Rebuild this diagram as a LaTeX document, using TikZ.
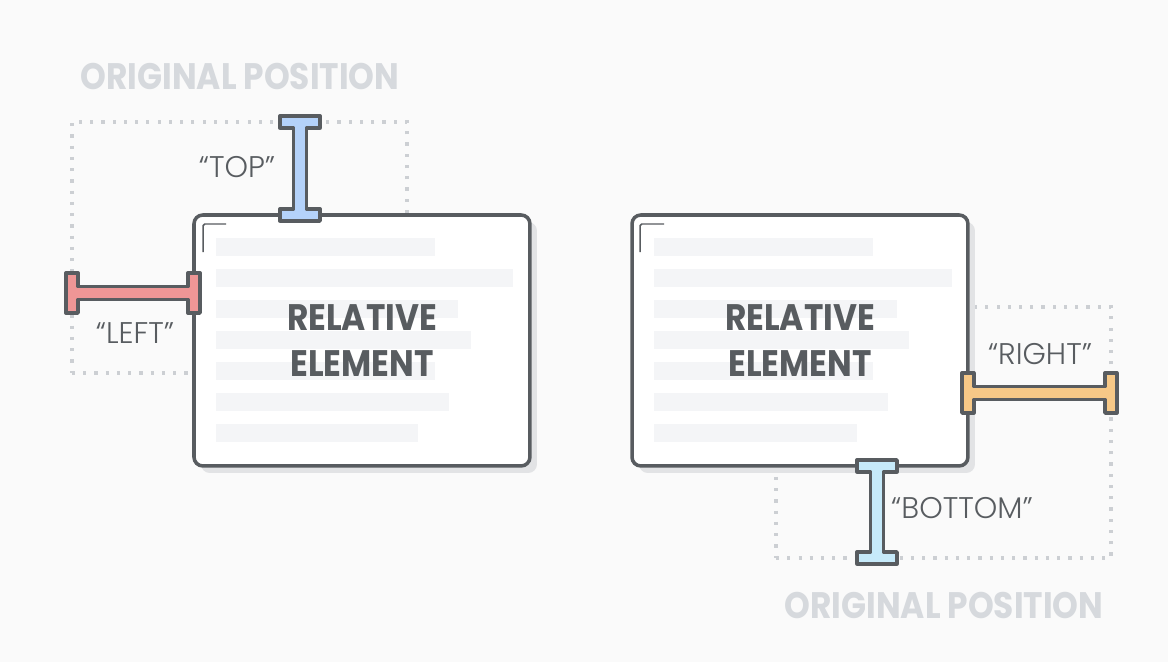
\documentclass[tikz,border=0pt]{standalone}
\usepackage{fontspec}
\newfontfamily\headfont{Poppins}[FakeStretch=0.89]
\newfontfamily\tagfont{Poppins Light}
\usetikzlibrary{calc,shadows,positioning}
\definecolor{paper}{RGB}{250,250,250}
\definecolor{ink}{RGB}{88,92,96}
\definecolor{ghost}{RGB}{214,217,221}
\definecolor{dots}{RGB}{204,207,211}
\definecolor{barfill}{RGB}{244,245,247}
\definecolor{shade}{RGB}{226,227,229}
\definecolor{sky}{RGB}{180,210,250}
\definecolor{rose}{RGB}{238,150,150}
\definecolor{sand}{RGB}{246,200,135}
\definecolor{ice}{RGB}{198,234,250}
\tikzset{
  ghostbox/.style={draw=dots,line width=1.8pt,dash pattern=on 1.8pt off 4.6pt,
    minimum width=6.7cm,minimum height=5.02cm,inner sep=0pt,outer sep=0pt},
  relbox/.style={draw=ink,fill=white,line width=2pt,rounded corners=5pt,
    minimum width=6.72cm,minimum height=5.02cm,inner sep=0pt,outer sep=0pt,
    drop shadow={shadow xshift=4pt,shadow yshift=-4pt,fill=shade,opacity=1}},
  txtbar/.style={fill=barfill},
  cornertick/.style={draw=ink,line width=0.85pt,rounded corners=1pt},
  bigtxt/.style={font=\headfont\bfseries\fontsize{21}{26}\selectfont,align=center},
  tag/.style={font=\tagfont\fontsize{17}{20}\selectfont,text=ink},
  % I-beams between the original and the shifted edge
  hbeam/.style={draw=ink,line width=1.9pt,line join=round,fill=#1,
    to path={($(\tikztostart)+(-6,-20)$) -- ($(\tikztostart)+(6,-20)$) -- ($(\tikztostart)+(6,-6.5)$)
      -- ($(\tikztotarget)+(-6,-6.5)$) -- ($(\tikztotarget)+(-6,-20)$) -- ($(\tikztotarget)+(6,-20)$)
      -- ($(\tikztotarget)+(6,20)$) -- ($(\tikztotarget)+(-6,20)$) -- ($(\tikztotarget)+(-6,6.5)$)
      -- ($(\tikztostart)+(6,6.5)$) -- ($(\tikztostart)+(6,20)$) -- ($(\tikztostart)+(-6,20)$) -- cycle}},
  vbeam/.style={draw=ink,line width=1.9pt,line join=round,fill=#1,
    to path={($(\tikztostart)+(-20,-6)$) -- ($(\tikztostart)+(20,-6)$) -- ($(\tikztostart)+(20,6)$)
      -- ($(\tikztostart)+(6.5,6)$) -- ($(\tikztotarget)+(6.5,-6)$) -- ($(\tikztotarget)+(20,-6)$)
      -- ($(\tikztotarget)+(20,6)$) -- ($(\tikztotarget)+(-20,6)$) -- ($(\tikztotarget)+(-20,-6)$)
      -- ($(\tikztotarget)+(-6.5,-6)$) -- ($(\tikztostart)+(-6.5,6)$) -- ($(\tikztostart)+(-20,6)$) -- cycle}},
}
\begin{document}
\begin{tikzpicture}[x=0.02cm,y=-0.02cm]
  \useasboundingbox[fill=paper] (0,0) rectangle (1168,662);
  % left: moved by top and left
  \node[ghostbox,anchor=north west] (orig1) at (72,122) {};
  \node[relbox,anchor=north west] (rel1) at (194,215) {};
  \foreach \w [count=\i from 0] in {219,297,242,255,219,233,202}
    \fill[txtbar] ($(rel1.north west)+(22,23+31*\i)$) rectangle ++(\w,18);
  \draw[cornertick] ($(rel1.north west)+(9,37)$) |- ($(rel1.north west)+(32,9)$);
  \node[bigtxt,text=ink] (lab1) at (rel1.center) {RELATIVE\\ELEMENT};
  \node[bigtxt,text=ghost] (cap1) at (240,76) {ORIGINAL POSITION};
  \coordinate (topB) at ($(rel1.north west)+(106,0)$);
  \coordinate (topA) at (orig1.north -| topB);
  \coordinate (leftB) at ($(rel1.north west)+(0,78)$);
  \coordinate (leftA) at (orig1.west |- leftB);
  \draw[vbeam=sky] (topA) to (topB);
  \draw[hbeam=rose] (leftA) to (leftB);
  \node[tag] (ttop) at (237,167) {“TOP”};
  \node[tag] (tleft) at (135,333) {“LEFT”};
  % right: moved by right and bottom
  \node[ghostbox,anchor=north west] (orig2) at (776,307) {};
  \node[relbox,anchor=north west] (rel2) at (632,215) {};
  \foreach \w [count=\i from 0] in {219,298,243,255,219,234,203}
    \fill[txtbar] ($(rel2.north west)+(22,23+31*\i)$) rectangle ++(\w,18);
  \draw[cornertick] ($(rel2.north west)+(8,37)$) |- ($(rel2.north west)+(32,9)$);
  \node[bigtxt,text=ink] (lab2) at (rel2.center) {RELATIVE\\ELEMENT};
  \node[bigtxt,text=ghost] (cap2) at (944,605) {ORIGINAL POSITION};
  \coordinate (rightA) at ($(rel2.north east)+(0,178)$);
  \coordinate (rightB) at (orig2.east |- rightA);
  \coordinate (botA) at ($(rel2.south west)+(245,0)$);
  \coordinate (botB) at (orig2.south -| botA);
  \draw[hbeam=sand] (rightA) to (rightB);
  \draw[vbeam=ice] (botA) to (botB);
  \node[tag] (tright) at (1040,354) {“RIGHT”};
  \node[tag] (tbottom) at (962,508) {“BOTTOM”};
\end{tikzpicture}
\end{document}
